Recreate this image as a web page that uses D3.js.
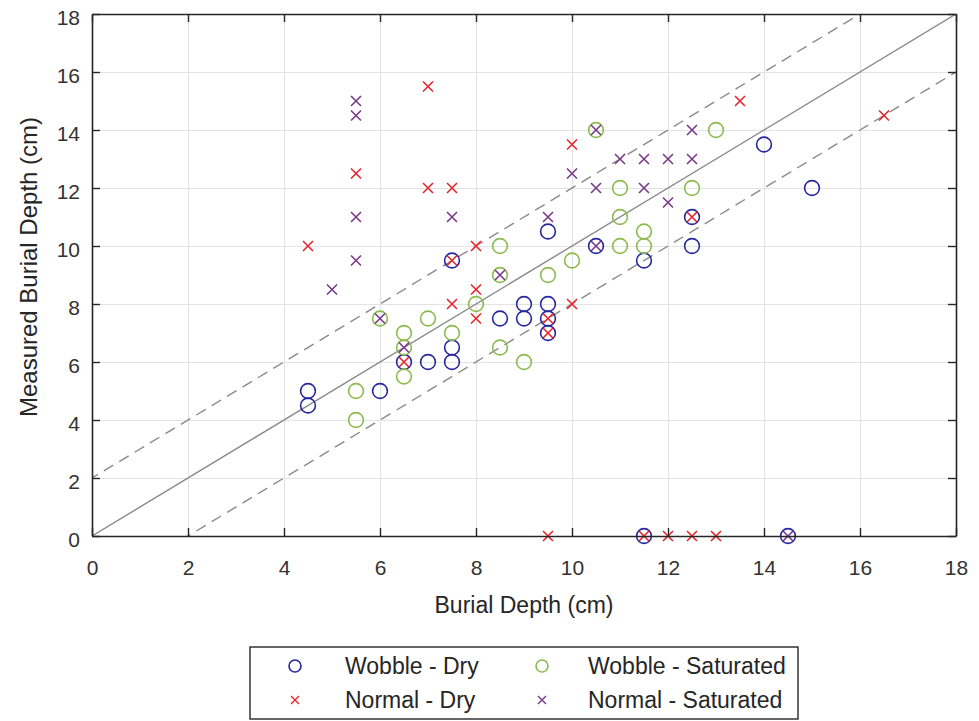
<!DOCTYPE html>
<meta charset="utf-8">
<script src="https://d3js.org/d3.v7.min.js"></script>
<style>
  body { margin: 0; background: #fff; }
  text { font-family: Arial, "Liberation Sans", Helvetica, sans-serif; }
</style>
<div id="chart"></div>
<script>
// data (cm)
const wobbleDryX = [4.5, 4.5, 6, 6.5, 7, 7.5, 7.5, 7.5, 8.5, 9, 9, 9.5, 9.5, 9.5, 9.5, 10.5, 11.5, 12.5, 12.5, 14, 15, 11.5, 14.5];
const wobbleDryY = [5, 4.5, 5, 6, 6, 6, 6.5, 9.5, 7.5, 8, 7.5, 8, 7.5, 7, 10.5, 10, 9.5, 11, 10, 13.5, 12, 0, 0];

const wobbleSatX = [5.5, 5.5, 6, 6.5, 6.5, 6.5, 7, 7.5, 8, 8.5, 8.5, 8.5, 9, 9.5, 10, 10.5, 11, 11, 11, 11.5, 11.5, 12.5, 13];
const wobbleSatY = [5, 4, 7.5, 5.5, 6.5, 7, 7.5, 7, 8, 10, 9, 6.5, 6, 9, 9.5, 14, 12, 11, 10, 10.5, 10, 12, 14];

const normalDryX = [4.5, 5.5, 6.5, 7, 7, 7.5, 7.5, 7.5, 8, 8, 8, 9.5, 9.5, 10, 10, 12.5, 13.5, 16.5, 9.5, 11.5, 12, 12.5, 13];
const normalDryY = [10, 12.5, 6, 15.5, 12, 12, 8, 9.5, 10, 8.5, 7.5, 7.5, 7, 13.5, 8, 11, 15, 14.5, 0, 0, 0, 0, 0];

const normalSatX = [5, 5.5, 5.5, 5.5, 5.5, 6, 6.5, 7.5, 8.5, 9.5, 10, 10.5, 10.5, 10.5, 11, 11.5, 11.5, 12, 12, 12.5, 12.5, 14.5];
const normalSatY = [8.5, 15, 14.5, 11, 9.5, 7.5, 6.5, 11, 9, 11, 12.5, 14, 12, 10, 13, 13, 12, 13, 11.5, 14, 13, 0];

const ticks = [0, 2, 4, 6, 8, 10, 12, 14, 16, 18];
const refOffsets = [0, 2, -2];   // y = x, y = x + 2, y = x - 2

const seriesNames = ["Wobble - Dry", "Wobble - Saturated", "Normal - Dry", "Normal - Saturated"];

// layout
const W = 979, H = 721;
const margin = {top: 14, right: 23, bottom: 185, left: 92},
    width = W - margin.left - margin.right,
    height = H - margin.top - margin.bottom;

const colors = ["#26269e", "#8cba4e", "#e8262e", "#7a3a8c"];
const shapes = ["circle", "circle", "cross", "cross"];

const root = d3.select("#chart").append("svg")
    .attr("width", W).attr("height", H);

const svg = root.append("g")
    .attr("transform", `translate(${margin.left},${margin.top})`);

const x = d3.scaleLinear().domain([0, 18]).range([0, width]);
const y = d3.scaleLinear().domain([0, 18]).range([height, 0]);

// grid
svg.append("g")
    .attr("transform", `translate(0,${height})`)
    .call(d3.axisBottom(x).tickValues(ticks).tickSize(-height).tickFormat(""))
    .call(g => g.select(".domain").remove())
    .call(g => g.selectAll("line").attr("stroke", "#e3e3e3").attr("stroke-width", 1.2));
svg.append("g")
    .call(d3.axisLeft(y).tickValues(ticks).tickSize(-width).tickFormat(""))
    .call(g => g.select(".domain").remove())
    .call(g => g.selectAll("line").attr("stroke", "#e3e3e3").attr("stroke-width", 1.2));

// reference lines, clipped to the axes
svg.append("clipPath").attr("id", "clip")
    .append("rect").attr("width", width).attr("height", height);

const line = d3.line().x(d => x(d[0])).y(d => y(d[1]));
svg.append("g").attr("clip-path", "url(#clip)")
    .selectAll("path")
    .data(refOffsets)
    .join("path")
    .attr("d", o => line([[-2, -2 + o], [20, 20 + o]]))
    .attr("fill", "none")
    .attr("stroke", "#8a8a8a")
    .attr("stroke-width", 1.4)
    .attr("stroke-dasharray", o => o === 0 ? null : "11,7");

// markers
function drawMarker(sel, shape, color) {
    if (shape === "circle") {
        sel.append("circle").attr("r", 7.4)
            .attr("fill", "none").attr("stroke", color).attr("stroke-width", 1.6);
    } else {
        sel.append("path").attr("d", "M-5,-5L5,5M-5,5L5,-5")
            .attr("fill", "none").attr("stroke", color).attr("stroke-width", 1.6);
    }
}

const seriesData = [
    d3.zip(wobbleDryX, wobbleDryY),
    d3.zip(wobbleSatX, wobbleSatY),
    d3.zip(normalDryX, normalDryY),
    d3.zip(normalSatX, normalSatY)
];

seriesData.forEach((pts, i) => {
    svg.append("g")
        .selectAll("g")
        .data(pts)
        .join("g")
        .attr("transform", d => `translate(${x(d[0])},${y(d[1])})`)
        .each(function() { drawMarker(d3.select(this), shapes[i], colors[i]); });
});

// box with inward ticks
const axisColor = "#262626";
function styleAxis(g) {
    g.select(".domain").attr("stroke", axisColor).attr("stroke-width", 1.6);
    g.selectAll(".tick line").attr("stroke", axisColor).attr("stroke-width", 1.4);
    g.selectAll(".tick text").attr("fill", "#333").style("font-size", "21px");
}
svg.append("g")
    .attr("transform", `translate(0,${height})`)
    .call(d3.axisBottom(x).tickValues(ticks).tickSizeInner(-8).tickSizeOuter(0).tickPadding(24))
    .call(styleAxis);
svg.append("g")
    .call(d3.axisTop(x).tickValues(ticks).tickSizeInner(-8).tickSizeOuter(0).tickFormat(""))
    .call(styleAxis);
svg.append("g")
    .call(d3.axisLeft(y).tickValues(ticks).tickSizeInner(-8).tickSizeOuter(0).tickPadding(12))
    .call(styleAxis)
    .call(g => g.selectAll(".tick text").attr("dy", "0.5em"));
svg.append("g")
    .attr("transform", `translate(${width},0)`)
    .call(d3.axisRight(y).tickValues(ticks).tickSizeInner(-8).tickSizeOuter(0).tickFormat(""))
    .call(styleAxis);

// axis labels
svg.append("text")
    .attr("x", width / 2).attr("y", height + 77)
    .attr("text-anchor", "middle")
    .attr("fill", "#262626")
    .style("font-size", "23px")
    .text("Burial Depth (cm)");
svg.append("text")
    .attr("transform", `translate(${-margin.left + 37},${height / 2 - 8}) rotate(-90)`)
    .attr("text-anchor", "middle")
    .attr("fill", "#262626")
    .style("font-size", "24px")
    .text("Measured Burial Depth (cm)");

// legend
const legend = root.append("g").attr("transform", "translate(250,647)");
legend.append("rect")
    .attr("width", 548).attr("height", 72)
    .attr("fill", "#fff").attr("stroke", axisColor).attr("stroke-width", 1.4);

const legendPos = [[0, 0], [1, 0], [0, 1], [1, 1]];
seriesNames.forEach((name, i) => {
    const [c, r] = legendPos[i];
    const item = legend.append("g")
        .attr("transform", `translate(${45 + c * 247},${19 + r * 34})`);
    const m = item.append("g");
    if (shapes[i] === "circle") {
        m.append("circle").attr("r", 6).attr("fill", "none")
            .attr("stroke", colors[i]).attr("stroke-width", 1.6);
    } else {
        m.append("path").attr("d", "M-4,-4L4,4M-4,4L4,-4").attr("fill", "none")
            .attr("stroke", colors[i]).attr("stroke-width", 1.4);
    }
    item.append("text")
        .attr("x", c === 0 ? 50 : 46).attr("dy", "0.36em")
        .attr("fill", "#262626")
        .style("font-size", "23px")
        .text(name);
});
</script>
